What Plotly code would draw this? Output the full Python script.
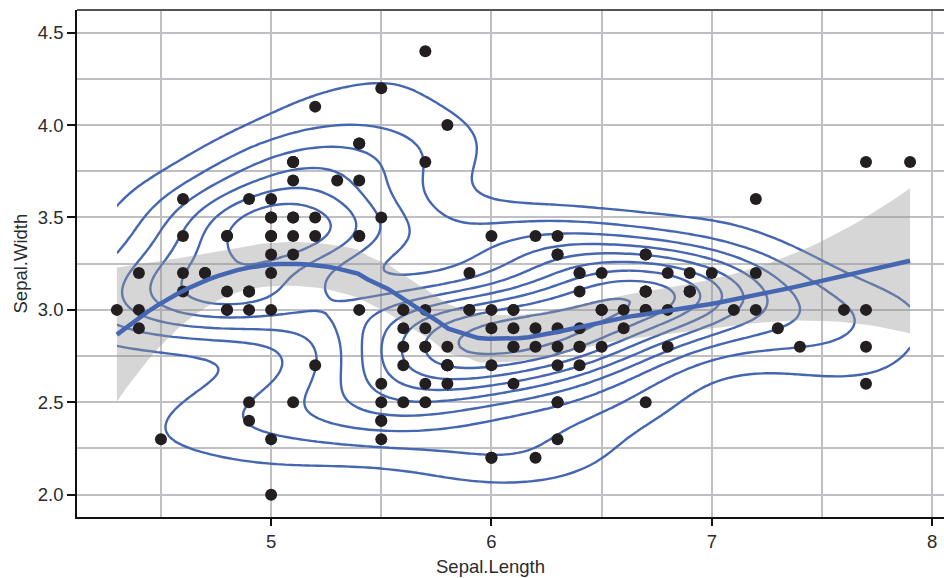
import numpy as np
import plotly.graph_objects as go

sepal_length = [5.1,4.9,4.7,4.6,5.0,5.4,4.6,5.0,4.4,4.9,5.4,4.8,4.8,4.3,5.8,5.7,5.4,5.1,5.7,5.1,
                5.4,5.1,4.6,5.1,4.8,5.0,5.0,5.2,5.2,4.7,4.8,5.4,5.2,5.5,4.9,5.0,5.5,4.9,4.4,5.1,
                5.0,4.5,4.4,5.0,5.1,4.8,5.1,4.6,5.3,5.0,
                7.0,6.4,6.9,5.5,6.5,5.7,6.3,4.9,6.6,5.2,5.0,5.9,6.0,6.1,5.6,6.7,5.6,5.8,6.2,5.6,
                5.9,6.1,6.3,6.1,6.4,6.6,6.8,6.7,6.0,5.7,5.5,5.5,5.8,6.0,5.4,6.0,6.7,6.3,5.6,5.5,
                5.5,6.1,5.8,5.0,5.6,5.7,5.7,6.2,5.1,5.7,
                6.3,5.8,7.1,6.3,6.5,7.6,4.9,7.3,6.7,7.2,6.5,6.4,6.8,5.7,5.8,6.4,6.5,7.7,7.7,6.0,
                6.9,5.6,7.7,6.3,6.7,7.2,6.2,6.1,6.4,7.2,7.4,7.9,6.4,6.3,6.1,7.7,6.3,6.4,6.0,6.9,
                6.7,6.9,5.8,6.8,6.7,6.7,6.3,6.5,6.2,5.9]
sepal_width = [3.5,3.0,3.2,3.1,3.6,3.9,3.4,3.4,2.9,3.1,3.7,3.4,3.0,3.0,4.0,4.4,3.9,3.5,3.8,3.8,
               3.4,3.7,3.6,3.3,3.4,3.0,3.4,3.5,3.4,3.2,3.1,3.4,4.1,4.2,3.1,3.2,3.5,3.6,3.0,3.4,
               3.5,2.3,3.2,3.5,3.8,3.0,3.8,3.2,3.7,3.3,
               3.2,3.2,3.1,2.3,2.8,2.8,3.3,2.4,2.9,2.7,2.0,3.0,2.2,2.9,2.9,3.1,3.0,2.7,2.2,2.5,
               3.2,2.8,2.5,2.8,2.9,3.0,2.8,3.0,2.9,2.6,2.4,2.4,2.7,2.7,3.0,3.4,3.1,2.3,3.0,2.5,
               2.6,3.0,2.6,2.3,2.7,3.0,2.9,2.9,2.5,2.8,
               3.3,2.7,3.0,2.9,3.0,3.0,2.5,2.9,2.5,3.6,3.2,2.7,3.0,2.5,2.8,3.2,3.0,3.8,2.6,2.2,
               3.2,2.8,2.8,2.7,3.3,3.2,2.8,3.0,2.8,3.0,2.8,3.8,2.8,2.8,2.6,3.0,3.4,3.1,3.0,3.1,
               3.1,3.1,2.7,3.2,3.3,3.0,2.5,3.0,3.4,3.0]

x = np.array(sepal_length, dtype=float)
y = np.array(sepal_width, dtype=float)
n = len(x)

# ---------- 2D kernel density (MASS::kde2d with bandwidth.nrd) ----------
def bw_nrd(v):
    q1, q3 = np.percentile(v, [25, 75])
    return 4 * 1.06 * min(np.std(v, ddof=1), (q3 - q1) / 1.34) * len(v) ** (-0.2)

hx, hy = bw_nrd(x) / 4, bw_nrd(y) / 4
gx = np.linspace(x.min(), x.max(), 100)
gy = np.linspace(y.min(), y.max(), 100)
ax = (gx[:, None] - x[None, :]) / hx
ay = (gy[:, None] - y[None, :]) / hy
dn = lambda u: np.exp(-0.5 * u * u) / np.sqrt(2 * np.pi)
z = dn(ay) @ dn(ax).T / (n * hx * hy)  # shape (len(gy), len(gx))

def pretty(lo, hi, nint=10):
    cell = (hi - lo) / nint
    base = 10 ** np.floor(np.log10(cell))
    unit = base
    h, h5 = 1.5, 0.5 + 1.5 * 1.5
    if 2 * base - cell < h * (cell - unit):
        unit = 2 * base
        if 5 * base - cell < h5 * (cell - unit):
            unit = 5 * base
            if 10 * base - cell < h * (cell - unit):
                unit = 10 * base
    start = np.floor(lo / unit) * unit
    end = np.ceil(hi / unit) * unit
    return start, end, unit

c_start, c_end, c_size = pretty(z.min(), z.max())

# ---------- loess (span 0.75, degree 2) with 95% CI ----------
def loess_operator(x, xs, span=0.75):
    q = int(np.floor(len(x) * span))
    L = np.zeros((len(xs), len(x)))
    for i, x0 in enumerate(xs):
        d = np.abs(x - x0)
        hmax = np.sort(d)[q - 1]
        w = np.clip(1 - (d / hmax) ** 3, 0, None) ** 3
        X = np.column_stack([np.ones_like(x), x - x0, (x - x0) ** 2])
        XtW = X.T * w
        A = np.linalg.pinv(XtW @ X) @ XtW
        L[i] = A[0]
    return L

xs = np.linspace(x.min(), x.max(), 80)
Ls = loess_operator(x, xs)
Ln = loess_operator(x, x)
fit = Ls @ y
resid = y - Ln @ y
M = np.eye(n) - Ln
R = M.T @ M
d1 = np.trace(R)
d2 = np.trace(R @ R)
sigma = np.sqrt(np.sum(resid ** 2) / d1)
se = sigma * np.sqrt(np.sum(Ls ** 2, axis=1))
df = d1 ** 2 / d2
zq = 1.959964
tq = zq + (zq ** 3 + zq) / (4 * df) + (5 * zq ** 5 + 16 * zq ** 3 + 3 * zq) / (96 * df ** 2)
lo_band = fit - tq * se
hi_band = fit + tq * se

blue = "#4566b1"
grid = "#bfbfc4"
txt = "#2b2b2b"

fig = go.Figure()
fig.add_trace(go.Scatter(
    x=np.concatenate([xs, xs[::-1]]), y=np.concatenate([hi_band, lo_band[::-1]]),
    fill="toself", fillcolor="rgba(153,153,153,0.4)", line=dict(width=0),
    mode="lines", hoverinfo="skip", showlegend=False))
fig.add_trace(go.Scatter(
    x=x, y=y, mode="markers", marker=dict(size=12, color="#231f20"), showlegend=False))
fig.add_trace(go.Contour(
    x=gx, y=gy, z=z, showscale=False,
    colorscale=[[0, blue], [1, blue]],
    contours=dict(coloring="lines", start=c_start + c_size, end=c_end, size=c_size),
    line=dict(width=2.4, color=blue), hoverinfo="skip"))
fig.add_trace(go.Scatter(
    x=xs, y=fit, mode="lines", line=dict(color=blue, width=4.5), showlegend=False))

fig.update_layout(
    width=944, height=578,
    margin=dict(l=77, r=0, t=10, b=61),
    plot_bgcolor="white", paper_bgcolor="white",
    font=dict(family="Liberation Sans, Arial, sans-serif", color=txt),
    showlegend=False,
    xaxis=dict(range=[4.119, 8.054], tickvals=[5, 6, 7, 8], ticktext=["5", "6", "7", "8"],
               showgrid=True, gridcolor=grid, gridwidth=1.5,
               minor=dict(dtick=0.5, tick0=0, showgrid=True, gridcolor=grid, gridwidth=1.5, ticks=""),
               showline=True, linecolor="#111111", linewidth=1.5,
               ticks="outside", ticklen=7, tickwidth=2, tickcolor="#111111",
               tickfont=dict(size=18.5, color=txt), zeroline=False),
    yaxis=dict(range=[1.879, 4.623], dtick=0.5, tick0=0, tickformat=".1f",
               showgrid=True, gridcolor=grid, gridwidth=1.5,
               minor=dict(dtick=0.25, tick0=0, showgrid=True, gridcolor=grid, gridwidth=1.5, ticks=""),
               showline=True, linecolor="#111111", linewidth=1.5,
               ticks="outside", ticklen=8, tickwidth=2, tickcolor="#111111",
               tickfont=dict(size=18.5, color=txt), zeroline=False),
    shapes=[dict(type="line", xref="paper", yref="paper", x0=0, x1=1, y0=1, y1=1,
                 line=dict(color="#555555", width=2))],
    annotations=[
        dict(text="Sepal.Length", xref="paper", yref="paper", x=0.4775, y=0, yshift=-49,
             showarrow=False, font=dict(size=18.5, color=txt), xanchor="center", yanchor="middle"),
        dict(text="Sepal.Width", xref="paper", yref="paper", x=0, xshift=-57, y=0.5,
             showarrow=False, font=dict(size=18.5, color=txt), textangle=-90,
             xanchor="center", yanchor="middle"),
    ],
)

fig.write_html("out.html")
